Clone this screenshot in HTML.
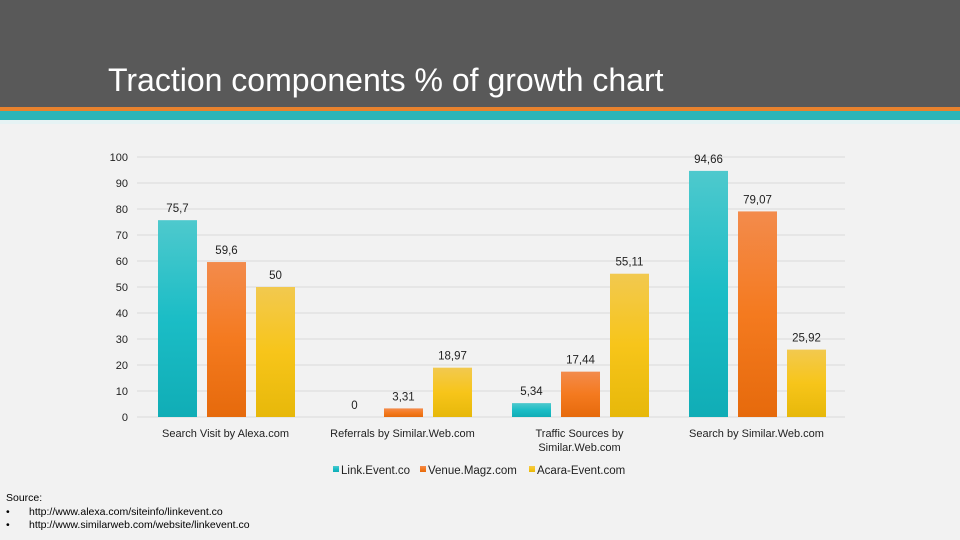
<!DOCTYPE html>
<html><head><meta charset="utf-8"><style>
body{margin:0;width:960px;height:540px;overflow:hidden;background:#f2f2f2;font-family:"Liberation Sans",sans-serif;position:relative}
#hdr{position:absolute;left:0;top:0;width:960px;height:107px;background:#595959}
#title{position:absolute;left:108px;top:62px;color:#fff;font-size:32px}
#or{position:absolute;left:0;top:107px;width:960px;height:4px;background:#e8822e}
#tl{position:absolute;left:0;top:111px;width:960px;height:9px;background:#2bb5b8}
#lt{position:absolute;left:0;top:120px;width:960px;height:4px;background:#e6f3f4}
#src{position:absolute;left:6px;top:492px;font-size:10.5px;color:#000;line-height:13.5px}
.ind{display:inline-block;width:23px}
</style></head><body>
<div id="hdr"></div>
<div id="title">Traction components % of growth chart</div>
<div id="or"></div>
<div id="tl"></div>
<div id="lt"></div>
<svg id="chart" width="960" height="540" style="position:absolute;left:0;top:0">
<defs>
<linearGradient id="g0" x1="0" y1="0" x2="0" y2="1"><stop offset="0" stop-color="#4ec9cd"/><stop offset="0.5" stop-color="#1bbdc6"/><stop offset="1" stop-color="#10adb6"/></linearGradient>
<linearGradient id="g1" x1="0" y1="0" x2="0" y2="1"><stop offset="0" stop-color="#f38b4c"/><stop offset="0.5" stop-color="#f47a1f"/><stop offset="1" stop-color="#e66a0c"/></linearGradient>
<linearGradient id="g2" x1="0" y1="0" x2="0" y2="1"><stop offset="0" stop-color="#f2c94f"/><stop offset="0.5" stop-color="#f7c51a"/><stop offset="1" stop-color="#e7b80a"/></linearGradient>
</defs>
</svg>
<div id="src">Source:<br><span class="ind">•</span>http://www.alexa.com/siteinfo/linkevent.co<br><span class="ind">•</span>http://www.similarweb.com/website/linkevent.co</div>
<script>
const categories=[["Search Visit by Alexa.com"],["Referrals by Similar.Web.com"],["Traffic Sources by","Similar.Web.com"],["Search by Similar.Web.com"]];
const seriesNames=["Link.Event.co","Venue.Magz.com","Acara-Event.com"];
const linkEvent=[75.7,0,5.34,94.66];
const venueMagz=[59.6,3.31,17.44,79.07];
const acaraEvent=[50,18.97,55.11,25.92];
const yTicks=[0,10,20,30,40,50,60,70,80,90,100];
const series=[linkEvent,venueMagz,acaraEvent];
const NS="http://www.w3.org/2000/svg";
const svg=document.getElementById('chart');
const x0=137,x1=845,y0=417,yTop=157;
const yScale=v=>y0-(v/100)*(y0-yTop);
const band=(x1-x0)/categories.length;
const bw=39,pitch=49;
function mk(t,a){const e=document.createElementNS(NS,t);for(const k in a)e.setAttribute(k,a[k]);svg.appendChild(e);return e;}
yTicks.forEach(t=>{
 const l=mk('line',{x1:x0,x2:x1,y1:yScale(t),y2:yScale(t),stroke:'#d9d9d9','stroke-width':1});
 
 
 const tx=mk('text',{x:128,y:yScale(t)+4,'text-anchor':'end','font-size':11,fill:'#222'});
 tx.textContent=t;
 
 
});
categories.forEach((c,i)=>{
 const cx=x0+band*(i+0.5);
 series.forEach((s,j)=>{
  const v=s[i];const bx=cx+(j-1)*pitch-bw/2+1;
  const r=mk('rect',{x:bx,y:yScale(v),width:bw,height:y0-yScale(v),fill:'url(#g'+j+')'});
  
  
  const lb=mk('text',{x:bx+bw/2,y:yScale(v)-8,'text-anchor':'middle','font-size':11.5,fill:'#222'});
  lb.textContent=String(v).replace('.',',');
  
  
 });
 c.forEach((line,k)=>{
  const t=mk('text',{x:cx,y:437+k*14,'text-anchor':'middle','font-size':11,fill:'#222'});
  t.textContent=line;
  
  
 });
});
const lx=[333,420,529];
seriesNames.forEach((n,j)=>{
 const r=mk('rect',{x:lx[j],y:466,width:6,height:6,fill:'url(#g'+j+')'});
 
 
 const t=mk('text',{x:lx[j]+8,y:474,'font-size':11.5,fill:'#222'});
 t.textContent=n;
 
 
});
</script>
</body></html>
